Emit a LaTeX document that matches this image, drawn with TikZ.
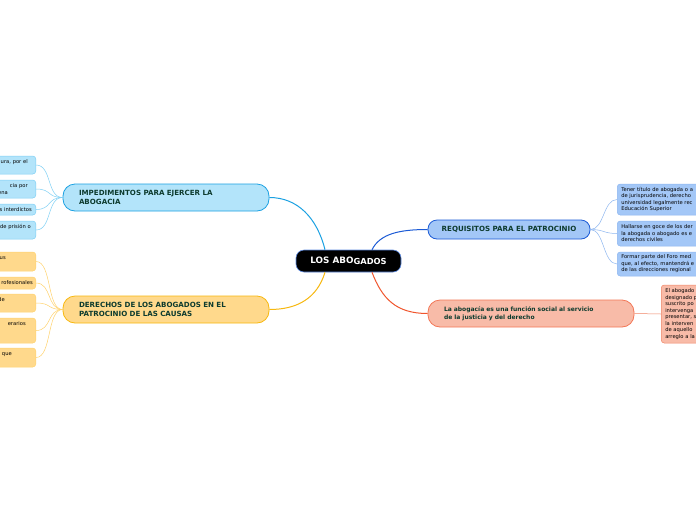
\documentclass[tikz,border=0pt]{standalone}
\usepackage{fontspec}
\setmainfont{DejaVu Sans}
\definecolor{bfill}{HTML}{B3E4FA}
\definecolor{bline}{HTML}{1BA1E2}
\definecolor{bchild}{HTML}{7FD0F5}
\definecolor{yfill}{HTML}{FFD98C}
\definecolor{yline}{HTML}{F7B80F}
\definecolor{ychild}{HTML}{FFD36E}
\definecolor{rfill}{HTML}{A3C7F7}
\definecolor{rline}{HTML}{1C5BD6}
\definecolor{rchild}{HTML}{8DB6F0}
\definecolor{ofill}{HTML}{F8BBA8}
\definecolor{oline}{HTML}{F0552D}
\definecolor{ochild}{HTML}{F08465}
\definecolor{txt}{HTML}{0D3B2E}
\newcommand\padr[1]{\mbox{\hspace{#1}}}
\tikzset{
  mainbox/.style={rounded corners=12pt, line width=0.8pt, text=txt, font=\fontsize{6}{8}\selectfont\bfseries, align=left, inner xsep=16pt, inner ysep=0pt, minimum height=27pt},
  capsfont/.style={font=\fontsize{7.1}{8.2}\selectfont\bfseries},
  leftkid/.style={rounded corners=3pt, line width=0.5pt, anchor=east, align=right, text=black, font=\fontsize{5.2}{6.5}\selectfont, inner xsep=3pt, inner ysep=2pt, text width=64pt},
  rightkid/.style={rounded corners=3pt, line width=0.5pt, anchor=west, align=left, text=black, font=\fontsize{5.2}{6.5}\selectfont, inner xsep=4pt, inner ysep=0pt, text width=110pt},
  kidline/.style={line width=0.5pt},
}
\begin{document}
\begin{tikzpicture}[x=1pt,y=-1pt]
\useasboundingbox (0,0) rectangle (696,520);
\fill[white] (0,0) rectangle (696,520);
\clip (0,0) rectangle (696,520);

% central
\node[draw=rline!70, fill=black, rounded corners=8pt, line width=0.6pt, minimum width=105pt, minimum height=22pt, inner sep=0pt, text=white, font=\fontsize{8.8}{9}\selectfont\bfseries] (c) at (348.5,261) {LOS ABO\raisebox{-0.8pt}{\fontsize{8.3}{9}\selectfont GADOS}};

% main topics
\node[mainbox, capsfont, draw=bline, fill=bfill, text width=174pt] (imp) at (166,197.5) {IMPEDIMENTOS PARA EJERCER LA\\ABOGACIA};
\node[mainbox, capsfont, draw=yline, fill=yfill, text width=174pt] (der) at (166,309.5) {DERECHOS DE LOS ABOGADOS EN EL\\PATROCINIO DE LAS CAUSAS};
\node[mainbox, capsfont, draw=rline, fill=rfill, rounded corners=9pt, minimum height=19pt, minimum width=162pt, inner xsep=0pt, align=center] (req) at (509,229.5) {REQUISITOS PARA EL PATROCINIO};
\node[mainbox, draw=oline!80, fill=ofill, text width=174pt] (fun) at (531,313.5) {La abogacía es una función social al servicio\\de la justicia y del derecho};

% main connectors
\draw[bline, line width=1pt] ([xshift=-23.5pt]c.north) .. controls +(-8,-32) and +(28,0) .. (imp.east);
\draw[yline, line width=1pt] ([xshift=-23.5pt]c.south) .. controls +(-8,26) and +(28,0) .. (der.east);
\draw[rline, line width=1pt] ([xshift=23.5pt]c.north) .. controls +(8,-16) and +(-28,0) .. (req.west);
\draw[oline, line width=1pt] ([xshift=23.5pt]c.south) .. controls +(10,26) and +(-32,0) .. (fun.west);

% left blue children
\node[leftkid, draw=bchild, fill=bfill, minimum height=18pt] (b1) at (36,165) {ura, por el\padr{5pt}\\\mbox{}};
\node[leftkid, draw=bchild, fill=bfill, minimum height=18pt] (b2) at (36,189) {cia por\padr{5pt}\\ena\padr{25pt}};
\node[leftkid, draw=bchild, fill=bfill, minimum height=11pt] (b3) at (36,209.5) {s interdictos\padr{1pt}};
\node[leftkid, draw=bchild, fill=bfill, minimum height=18pt] (b4) at (36,230) {de prisión o\padr{2pt}\\\mbox{}};
\foreach \k in {b1,b2,b3,b4}
  \draw[kidline, bchild] (imp.west) .. controls +(-16,0) and +(16,0) .. (\k.east);

% left yellow children
\node[leftkid, draw=ychild, fill=yfill, minimum height=19pt] (y1) at (36,261.5) {us\padr{27pt}\\\mbox{}};
\node[leftkid, draw=ychild, fill=yfill, minimum height=12pt] (y2) at (36,283) {rofesionales};
\node[leftkid, draw=ychild, fill=yfill, minimum height=18pt] (y3) at (36,303) {de\padr{28pt}\\\mbox{}};
\node[leftkid, draw=ychild, fill=yfill, minimum height=25pt] (y4) at (36,330.5) {erarios\padr{7pt}\\\mbox{}\\\mbox{}};
\node[leftkid, draw=ychild, fill=yfill, minimum height=19pt] (y5) at (36,357.5) {que\padr{21pt}\\\mbox{}};
\foreach \k in {y1,y2,y3,y4,y5}
  \draw[kidline, ychild] (der.west) .. controls +(-16,0) and +(16,0) .. (\k.east);

% right blue children
\node[rightkid, draw=rchild, fill=rfill, minimum height=31pt] (r1) at (617,199.5) {Tener título de abogada o a\\de jurisprudencia, derecho\\universidad legalmente rec\\Educación Superior};
\node[rightkid, draw=rchild, fill=rfill, minimum height=25pt] (r2) at (617,233.5) {Hallarse en goce de los der\\la abogada o abogado es e\\derechos civiles};
\node[rightkid, draw=rchild, fill=rfill, minimum height=24pt] (r3) at (617,264) {Formar parte del Foro med\\que, al efecto, mantendrá e\\de las direcciones regional};
\foreach \k in {r1,r2,r3}
  \draw[kidline, rchild] (req.east) .. controls +(14,0) and +(-14,0) .. (\k.west);

% right red child
\node[rightkid, draw=ochild, fill=ofill, minimum height=58pt] (o1) at (661,314) {El abogado\\designado p\\suscrito po\\intervenga\\presentar, s\\la interven\\de aquello\\arreglo a la};
\draw[kidline, ochild] (fun.east) -- (o1.west);
\end{tikzpicture}
\end{document}
